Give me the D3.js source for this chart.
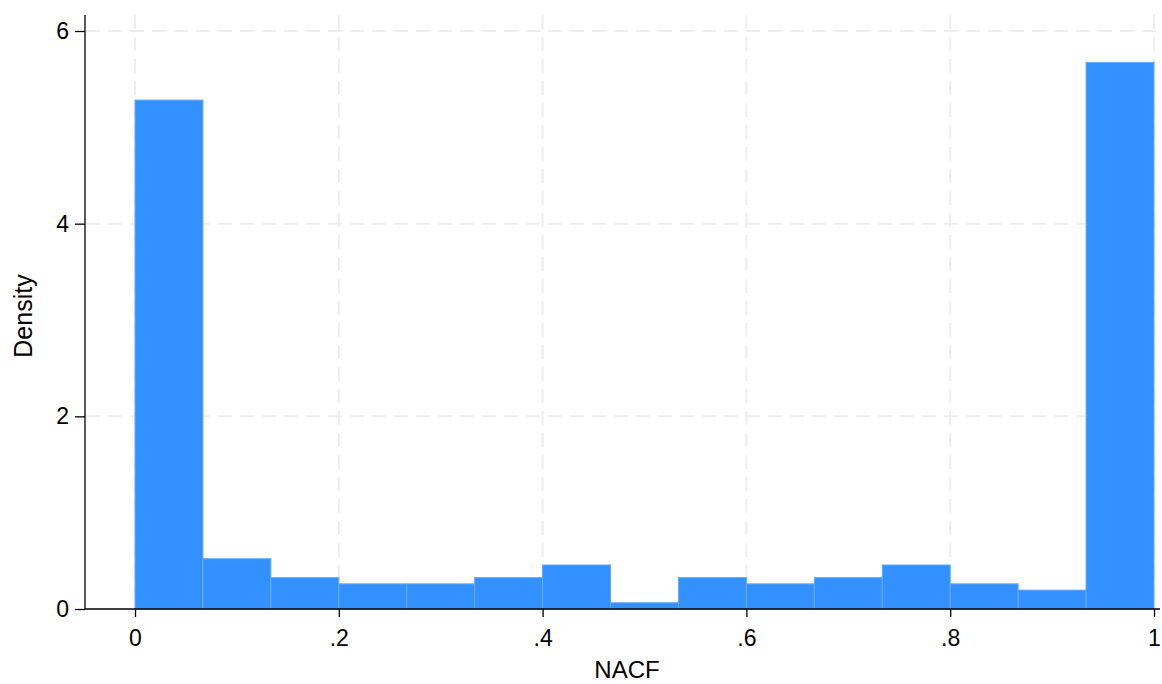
<!DOCTYPE html>
<html><head><meta charset="utf-8">
<script src="https://cdn.jsdelivr.net/npm/d3@7"></script>
<style>body{margin:0;background:#fff}svg{display:block}text{font-family:"Liberation Sans",Arial,sans-serif;fill:#000}</style>
</head><body>
<svg id="c" width="1162" height="684"></svg>
<script>
const binStarts = [0,1,2,3,4,5,6,7,8,9,10,11,12,13,14].map(i=>i/15);
const binWidth = 1/15;
const densities = [5.283,0.522,0.326,0.261,0.261,0.326,0.457,0.065,0.326,0.261,0.326,0.457,0.261,0.196,5.674];
const xTicks = [0,0.2,0.4,0.6,0.8,1];
const xTickLabels = ["0",".2",".4",".6",".8","1"];
const yTicks = [0,2,4,6];
const yTickLabels = ["0","2","4","6"];

const svg = d3.select("#c");
const x = d3.scaleLinear().domain([0,1]).range([135,1154]);
const y = d3.scaleLinear().domain([0,6]).range([609,31]);

// grid
svg.append("g").selectAll("line").data(yTicks.filter(d=>d>0)).join("line")
  .attr("x1",86).attr("x2",1160).attr("y1",d=>y(d)).attr("y2",d=>y(d))
  .attr("stroke","#eeeeee").attr("stroke-width",2).attr("stroke-dasharray","14,8");
svg.append("g").selectAll("line").data(xTicks).join("line")
  .attr("x1",d=>x(d)).attr("x2",d=>x(d)).attr("y1",15).attr("y2",609)
  .attr("stroke","#eeeeee").attr("stroke-width",2).attr("stroke-dasharray","14,8");

// bars
svg.append("g").selectAll("rect").data(densities).join("rect")
  .attr("x",(d,i)=>x(binStarts[i]))
  .attr("width",x(binWidth)-x(0))
  .attr("y",d=>y(d))
  .attr("height",d=>y(0)-y(d))
  .attr("fill","#3391ff").attr("stroke","#62abff").attr("stroke-width",1);

// axes
const xAxis = d3.axisBottom(x).tickValues(xTicks).tickFormat((d,i)=>xTickLabels[i]).tickSize(8).tickPadding(13);
const gx = svg.append("g").attr("transform","translate(0,609)").call(xAxis);
gx.select(".domain").remove();
gx.append("line").attr("x1",85).attr("x2",1160).attr("stroke","#000").attr("stroke-width",1.3);
gx.selectAll(".tick line").attr("stroke","#000").attr("stroke-width",1.3);
gx.selectAll("text").attr("font-size",23).attr("font-family","Liberation Sans, Arial, sans-serif").attr("fill","#000");

const yAxis = d3.axisLeft(y).tickValues(yTicks).tickFormat((d,i)=>yTickLabels[i]).tickSize(10).tickPadding(6);
const gy = svg.append("g").attr("transform","translate(85,0)").call(yAxis);
gy.select(".domain").remove();
gy.append("line").attr("y1",15).attr("y2",609).attr("stroke","#000").attr("stroke-width",1.3);
gy.selectAll(".tick line").attr("stroke","#000").attr("stroke-width",1.3);
gy.selectAll("text").attr("font-size",23).attr("font-family","Liberation Sans, Arial, sans-serif").attr("fill","#000");

svg.append("text").attr("x",627).attr("y",678).attr("text-anchor","middle").attr("font-size",24).text("NACF");
svg.append("text").attr("transform","translate(32,316) rotate(-90)").attr("text-anchor","middle").attr("font-size",25).text("Density");
</script>
</body></html>
